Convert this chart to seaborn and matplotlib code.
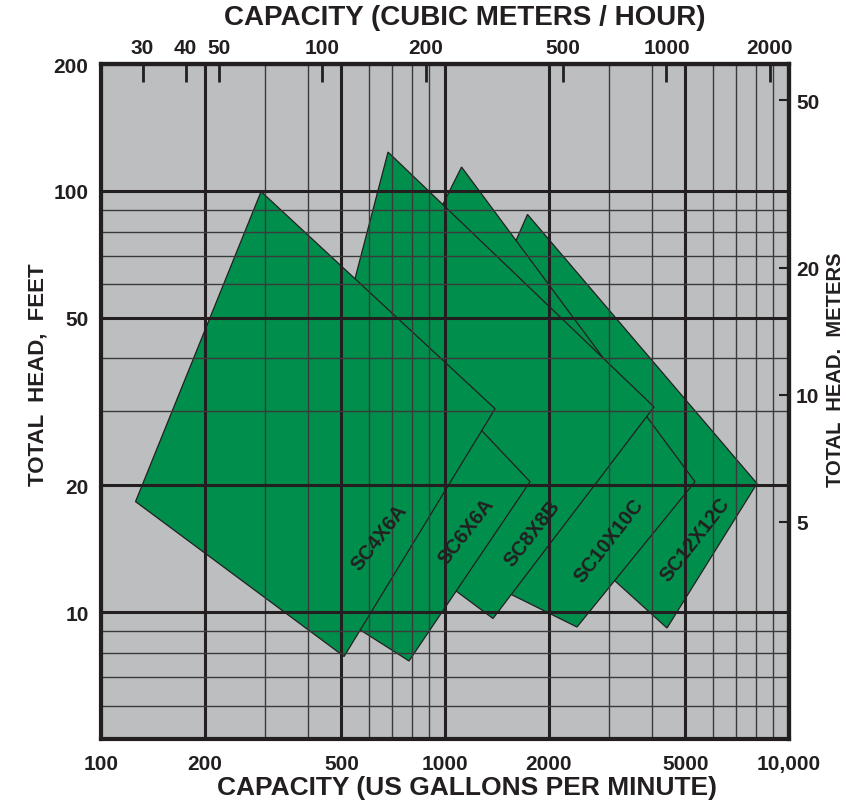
import matplotlib
matplotlib.use("Agg")
import matplotlib.pyplot as plt
import seaborn as sns
from matplotlib.ticker import NullFormatter, NullLocator

sns.set_theme(style="white")
plt.rcParams['font.family'] = ['Liberation Sans', 'DejaVu Sans']

# pump envelopes, vertices left / top / right / bottom (gpm, feet)
models = ["SC4X6A", "SC6X6A", "SC8X8B", "SC10X10C", "SC12X12C"]
gpm_pts = [
    [126, 292, 1398, 509],
    [331, 460, 1767, 786],
    [387, 683, 4052, 1379],
    [379, 1117, 5330, 2419],
    [948, 1737, 8072, 4419],
]
head_pts = [
    [18.3, 99.6, 30.4, 7.85],
    [12.0, 65.2, 20.4, 7.66],
    [20.9, 123.6, 30.7, 9.66],
    [19.5, 113.9, 20.4, 9.22],
    [28.6, 87.9, 20.2, 9.17],
]
label_gpm = [645, 1150, 1790, 3000, 5330]
label_head = [15.1, 15.6, 15.4, 14.8, 14.9]

# axis ticks
gpm_major = [100, 200, 500, 1000, 2000, 5000, 10000]
gpm_labels = ["100", "200", "500", "1000", "2000", "5000", "10,000"]
gpm_minor = [300, 400, 600, 700, 800, 900, 3000, 4000, 6000, 7000, 8000, 9000]
ft_major = [10, 20, 50, 100, 200]
ft_minor = [6, 7, 8, 9, 30, 40, 60, 70, 80, 90]
m3h_ticks = [30, 40, 50, 100, 200, 500, 1000, 2000]
m_ticks = [5, 10, 20, 50]

GPM_PER_M3H = 4.402868
M_PER_FT = 0.3048

GREEN = "#008e4c"
GRAY = "#bcbec0"
INK = "#231f20"

fig = plt.figure(figsize=(8.46, 8.03), dpi=100)
ax = fig.add_axes([101/846, 1 - 740/803, 688/846, 675/803])
ax.set_xscale("log")
ax.set_yscale("log")
ax.set_xlim(100, 10000)
ax.set_ylim(5, 200)
ax.set_facecolor(GRAY)

# draw back to front so SC4X6A sits on top
n = len(models)
for i in reversed(range(n)):
    ax.fill(gpm_pts[i], head_pts[i], facecolor=GREEN, edgecolor=INK,
            linewidth=0.9, zorder=1 + (n - i) * 0.1)
    ax.text(label_gpm[i], label_head[i], models[i], rotation=52,
            ha="center", va="center", fontsize=14.5, fontweight="bold",
            color=INK, zorder=4)

# grid
ax.set_xticks(gpm_major, labels=gpm_labels)
ax.set_xticks(gpm_minor, minor=True)
ax.set_yticks(ft_major, labels=[str(v) for v in ft_major])
ax.set_yticks(ft_minor, minor=True)
ax.xaxis.set_minor_formatter(NullFormatter())
ax.yaxis.set_minor_formatter(NullFormatter())
ax.set_axisbelow(False)
ax.grid(which="major", color=INK, linewidth=2.2)
ax.grid(which="minor", color="#3a3a3a", linewidth=1.0)
ax.tick_params(which="both", length=0)
ax.tick_params(axis="x", labelsize=15, pad=11, colors=INK)
ax.tick_params(axis="y", labelsize=15, pad=9, colors=INK)
for lab in ax.get_xticklabels() + ax.get_yticklabels():
    lab.set_fontweight("bold")
for sp in ax.spines.values():
    sp.set_linewidth(3)
    sp.set_color(INK)
    sp.set_zorder(5)

# top axis: cubic meters / hour
secx = ax.secondary_xaxis("top", functions=(lambda q: q / GPM_PER_M3H,
                                            lambda q: q * GPM_PER_M3H))
secx.set_xticks(m3h_ticks, labels=[str(v) for v in m3h_ticks])
secx.xaxis.set_minor_locator(NullLocator())
secx.tick_params(direction="in", length=13, width=2, pad=5,
                 labelsize=15, colors=INK)
for lab in secx.get_xticklabels():
    lab.set_fontweight("bold")
secx.spines["top"].set_linewidth(3)
secx.spines["top"].set_color(INK)

# right axis: meters
secy = ax.secondary_yaxis("right", functions=(lambda f: f * M_PER_FT,
                                              lambda m: m / M_PER_FT))
secy.set_yticks(m_ticks, labels=[str(v) for v in m_ticks])
secy.yaxis.set_minor_locator(NullLocator())
secy.tick_params(direction="in", length=7, width=1.5, pad=5,
                 labelsize=15, colors=INK)
for lab in secy.get_yticklabels():
    lab.set_fontweight("bold")
secy.spines["right"].set_linewidth(3)
secy.spines["right"].set_color(INK)

# axis titles
fig.text(465/846, 1 - 18/803, "CAPACITY (CUBIC METERS / HOUR)", ha="center",
         va="center", fontsize=20, fontweight="bold", color=INK)
fig.text(467/846, 1 - 788/803, "CAPACITY (US GALLONS PER MINUTE)", ha="center",
         va="center", fontsize=19, fontweight="bold", color=INK)
fig.text(38/846, 1 - 375/803, "TOTAL  HEAD,  FEET", rotation=90, ha="center",
         va="center", fontsize=16, fontweight="bold", color=INK)
fig.text(835/846, 1 - 370/803, "TOTAL  HEAD.  METERS", rotation=90, ha="center",
         va="center", fontsize=14.5, fontweight="bold", color=INK)

fig.savefig("out.png", dpi=100, facecolor="white")
